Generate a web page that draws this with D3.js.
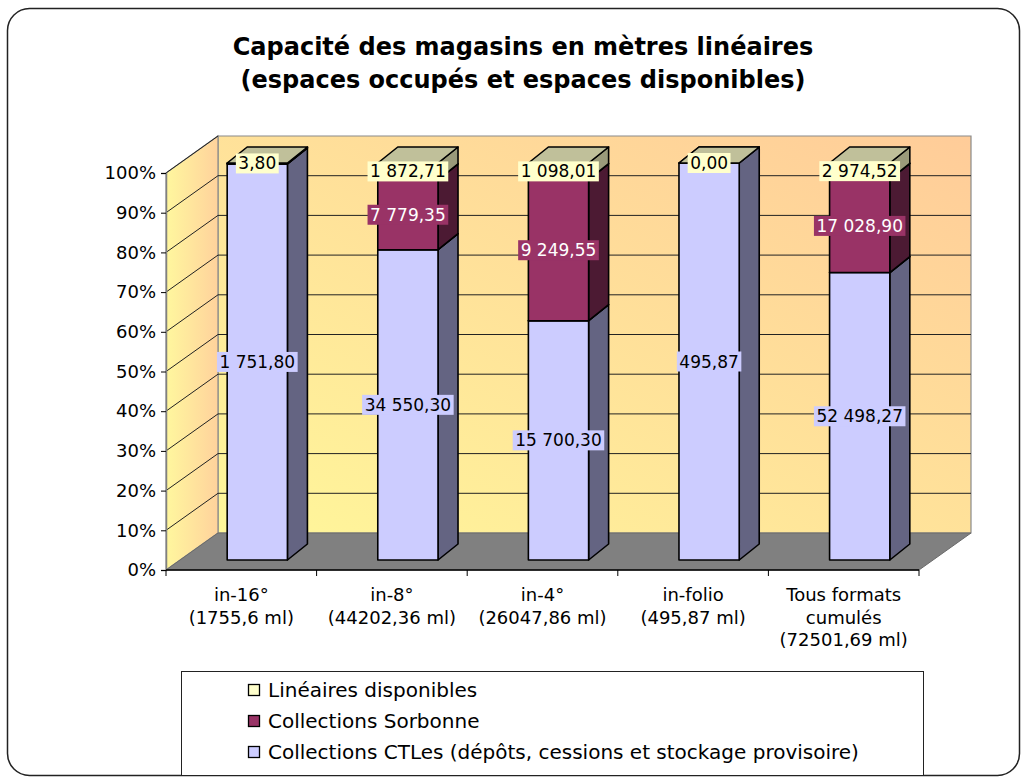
<!DOCTYPE html>
<html><head><meta charset="utf-8">
<script src="https://cdn.jsdelivr.net/npm/d3@7"></script>
<style>body{margin:0;background:#fff} svg{display:block}</style>
</head><body>
<svg id="c" width="1027" height="779"></svg>
<script>
// ---- DATA ----
const categoryLines = [
  ["in-16°", "(1755,6 ml)"],
  ["in-8°", "(44202,36 ml)"],
  ["in-4°", "(26047,86 ml)"],
  ["in-folio", "(495,87 ml)"],
  ["Tous formats", "cumulés", "(72501,69 ml)"]
];
const seriesNames = [
  "Collections CTLes (dépôts, cessions et stockage provisoire)",
  "Collections Sorbonne",
  "Linéaires disponibles"
];
const ctles = [1751.80, 34550.30, 15700.30, 495.87, 52498.27];
const sorbonne = [null, 7779.35, 9249.55, null, 17028.90];
const disponibles = [3.80, 1872.71, 1098.01, 0.00, 2974.52];
const yTickValues = [0, 0.1, 0.2, 0.3, 0.4, 0.5, 0.6, 0.7, 0.8, 0.9, 1];
const titleLines = ["Capacité des magasins en mètres linéaires", "(espaces occupés et espaces disponibles)"];

// ---- STYLE ----
const FONT = "'DejaVu Sans', Verdana, sans-serif";
const seriesStyle = [
  {front: "#CCCCFF", side: "#646482", top: "#9999C0", text: "#000"},
  {front: "#993366", side: "#4C1A33", top: "#73264D", text: "#fff"},
  {front: "#FFFFCC", side: "#9A9A7A", top: "#C0C09A", text: "#000"}
];
const seriesData = [ctles, sorbonne, disponibles];

const svg = d3.select("#c");
const defs = svg.append("defs");
const gBack = defs.append("linearGradient").attr("id", "gBack")
  .attr("x1", 0).attr("y1", 1).attr("x2", 1).attr("y2", 0);
gBack.append("stop").attr("offset", 0).attr("stop-color", "#FFF79A");
gBack.append("stop").attr("offset", 1).attr("stop-color", "#FFCC99");
const gSide = defs.append("linearGradient").attr("id", "gSide")
  .attr("x1", 0).attr("y1", 0).attr("x2", 1).attr("y2", 0);
gSide.append("stop").attr("offset", 0).attr("stop-color", "#FFF79E");
gSide.append("stop").attr("offset", 1).attr("stop-color", "#FFD29C");

// outer border
svg.append("rect").attr("x", 7.5).attr("y", 8.5).attr("width", 1012).attr("height", 767)
  .attr("rx", 22).attr("fill", "#fff").attr("stroke", "#222").attr("stroke-width", 1.5);

// title
svg.append("g").selectAll("text").data(titleLines).join("text")
  .attr("x", 523).attr("y", (d, i) => 55 + i * 33)
  .attr("text-anchor", "middle").attr("font-family", FONT).attr("font-weight", "bold")
  .attr("font-size", 24).attr("fill", "#000").text(d => d);

// ---- SCALES ----
const x = d3.scaleBand().domain(d3.range(categoryLines.length)).range([166, 919])
  .paddingInner(0.6).paddingOuter(0.3);
const y = d3.scaleLinear().domain([0, 1]).range([570, 173]);
const DX = 52, DY = 37;         // wall depth
const FX = 16, FY = 10;         // bar front offset
const BX = 36, BY = 26;         // bar back offset
const x0 = x.range()[0], x1 = x.range()[1];
const pts = a => a.map(p => p.join(",")).join(" ");

// back wall
svg.append("polygon")
  .attr("points", pts([[x0 + DX, y(0) - DY], [x1 + DX, y(0) - DY], [x1 + DX, y(1) - DY], [x0 + DX, y(1) - DY]]))
  .attr("fill", "url(#gBack)").attr("stroke", "#8a8a8a").attr("stroke-width", 1.2);
// side wall
svg.append("polygon")
  .attr("points", pts([[x0, y(0)], [x0 + DX, y(0) - DY], [x0 + DX, y(1) - DY], [x0, y(1)]]))
  .attr("fill", "url(#gSide)").attr("stroke", "#8a8a8a").attr("stroke-width", 1.2);
// floor
svg.append("polygon")
  .attr("points", pts([[x0, y(0)], [x1, y(0)], [x1 + DX, y(0) - DY], [x0 + DX, y(0) - DY]]))
  .attr("fill", "#808080").attr("stroke", "#6a6a6a").attr("stroke-width", 1);

// gridlines
const grid = svg.append("g").attr("stroke", "#222").attr("stroke-width", 1);
yTickValues.filter(v => v > 0).forEach(v => {
  grid.append("line").attr("x1", x0).attr("y1", y(v)).attr("x2", x0 + DX).attr("y2", y(v) - DY);
  if (v < 1) grid.append("line").attr("x1", x0 + DX).attr("y1", y(v) - DY).attr("x2", x1 + DX).attr("y2", y(v) - DY);
});

// y axis
const yAxis = svg.append("g").attr("transform", `translate(${x0},0)`)
  .call(d3.axisLeft(y).tickValues(yTickValues).tickFormat(d3.format(".0%")).tickSize(5).tickPadding(5));
yAxis.select(".domain").attr("stroke", "#808080").attr("stroke-width", 1.5);
yAxis.selectAll(".tick line").attr("stroke", "#000");
yAxis.selectAll("text").attr("font-family", FONT).attr("font-size", 18).attr("fill", "#000");

// x axis line + ticks
svg.append("line").attr("x1", x0).attr("x2", x1).attr("y1", y(0)).attr("y2", y(0))
  .attr("stroke", "#000").attr("stroke-width", 1.5);
const bounds = d3.range(categoryLines.length + 1).map(i => x0 + x.step() * x.paddingOuter() - x.step() * x.paddingInner() / 2 + i * x.step());
svg.append("g").selectAll("line").data(bounds).join("line")
  .attr("x1", d => d).attr("x2", d => d).attr("y1", y(0)).attr("y2", y(0) + 6)
  .attr("stroke", "#000").attr("stroke-width", 1);

// category labels
const catG = svg.append("g").attr("font-family", FONT).attr("font-size", 18).attr("text-anchor", "middle");
categoryLines.forEach((lines, i) => {
  lines.forEach((t, j) => {
    catG.append("text").attr("x", x(i) + x.bandwidth() / 2).attr("y", 601 + j * 22.5).text(t);
  });
});

// ---- BARS ----
const fmt = d3.formatLocale({decimal: ",", thousands: " ", grouping: [3], currency: ["", ""]}).format(",.2f");
const totals = categoryLines.map((_, i) => seriesData.reduce((s, arr) => s + (arr[i] || 0), 0));
const labels = [];
const barsG = svg.append("g").attr("stroke", "#000").attr("stroke-width", 1.6).attr("stroke-linejoin", "round");
categoryLines.forEach((_, i) => {
  let cum = 0;
  const bx = x(i), bw = x.bandwidth();
  seriesData.forEach((arr, s) => {
    const v = arr[i];
    if (v === null || v === undefined) return;
    const f0 = cum / totals[i], f1 = (cum + v) / totals[i];
    cum += v;
    const st = seriesStyle[s];
    const yb = y(f0), yt = y(f1);
    const L = bx + FX, R = bx + FX + bw;
    if (v > 0) {
      barsG.append("polygon").attr("fill", st.side)
        .attr("points", pts([[R, yb - FY], [bx + BX + bw, yb - BY], [bx + BX + bw, yt - BY], [R, yt - FY]]));
      barsG.append("rect").attr("fill", st.front)
        .attr("x", L).attr("y", yt - FY).attr("width", bw).attr("height", yb - yt);
    }
    barsG.append("polygon").attr("fill", st.top)
      .attr("points", pts([[L, yt - FY], [R, yt - FY], [bx + BX + bw, yt - BY], [bx + BX, yt - BY]]));
    labels.push({x: L + bw / 2, y: (yb + yt) / 2 - FY, text: fmt(v), st});
  });
});

// labels
const labG = svg.append("g").attr("font-family", FONT).attr("font-size", 17);
labels.forEach(l => {
  const t = labG.append("text").attr("x", l.x).attr("y", l.y + 6).attr("text-anchor", "middle")
    .attr("fill", l.st.text).text(l.text);
  const w = t.node().getComputedTextLength();
  labG.insert("rect", () => t.node()).attr("x", l.x - w / 2 - 2.5).attr("y", l.y - 10)
    .attr("width", w + 5).attr("height", 20).attr("fill", l.st.front);
});

// ---- LEGEND ----
svg.append("rect").attr("x", 181.5).attr("y", 671.5).attr("width", 742).attr("height", 104)
  .attr("fill", "#fff").attr("stroke", "#222").attr("stroke-width", 1);
const legOrder = [2, 1, 0];
const legG = svg.append("g").attr("font-family", FONT).attr("font-size", 20);
legOrder.forEach((s, k) => {
  const cy = 690 + k * 31;
  legG.append("rect").attr("x", 248.5).attr("y", cy - 5.5).attr("width", 11).attr("height", 11)
    .attr("fill", seriesStyle[s].front).attr("stroke", "#000").attr("stroke-width", 1.3);
  legG.append("text").attr("x", 268).attr("y", cy + 7).text(seriesNames[s]);
});
</script>
</body></html>
